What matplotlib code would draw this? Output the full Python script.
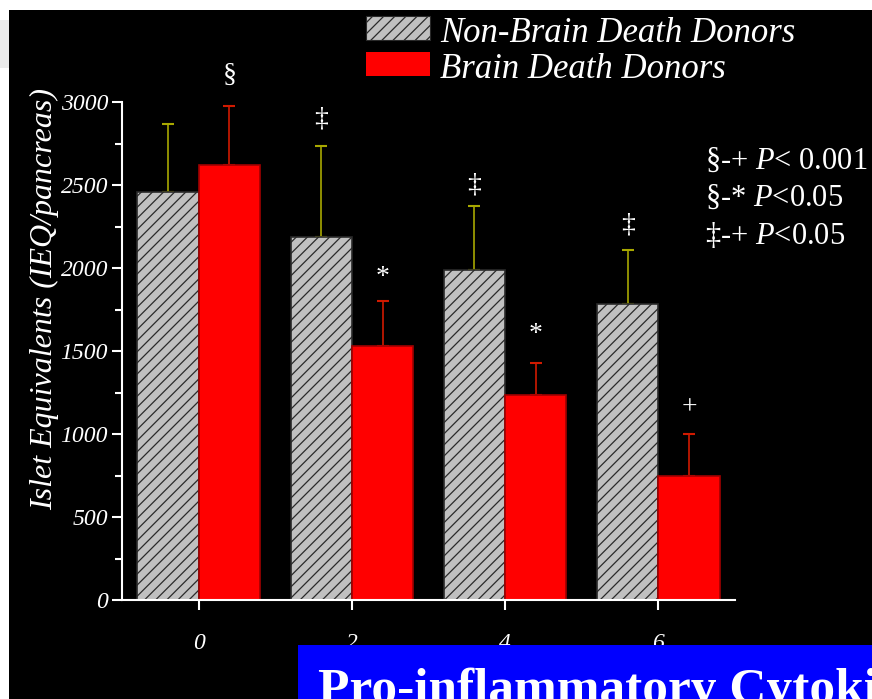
import numpy as np
import matplotlib
matplotlib.use("Agg")
import matplotlib.pyplot as plt
from matplotlib.patches import Rectangle

# data
hours = np.array([0, 2, 4, 6])
non_bd = [2460, 2185, 1985, 1785]
non_bd_err = [410, 550, 390, 325]
bd = [2620, 1530, 1235, 745]
bd_err = [355, 270, 195, 255]

# significance marks: (symbol, bar x offset, group index, y)
marks = [("§", 0.4, 0, 3160), ("‡", -0.4, 1, 2900), ("*", 0.4, 1, 1940),
         ("‡", -0.4, 2, 2500), ("*", 0.4, 2, 1600), ("‡", -0.4, 3, 2260),
         ("+", 0.4, 3, 1160)]

W, H = 872, 699
serif = "Liberation Serif"
plt.rcParams["hatch.linewidth"] = 0.9
plt.rcParams["mathtext.fontset"] = "custom"
plt.rcParams["mathtext.rm"] = serif
plt.rcParams["mathtext.it"] = serif + ":italic"


def fx(px):
    return px / W


def fy(py):
    return 1 - py / H


fig = plt.figure(figsize=(W / 100, H / 100), dpi=100, facecolor="white")

# black slide background + the little grey strip at the left edge
fig.patches.append(Rectangle((fx(9), 0), 1 - fx(9), fy(10), transform=fig.transFigure,
                             facecolor="black", edgecolor="none", zorder=-10))
fig.patches.append(Rectangle((0, fy(68)), fx(9), fy(20) - fy(68), transform=fig.transFigure,
                             facecolor="#ebebeb", edgecolor="none", zorder=-10))

ax = fig.add_axes([fx(122), fy(600), fx(735) - fx(122), fy(102) - fy(600)])
ax.set_facecolor("none")

ax.bar(hours - 0.4, non_bd, width=0.8, color="#c0c0c0", edgecolor="#2a2a2a",
       hatch="///", linewidth=1.2, zorder=2)
ax.bar(hours + 0.4, bd, width=0.8, color="#ff0000", edgecolor="#a00000",
       linewidth=1.2, zorder=2)
ax.errorbar(hours - 0.4, non_bd, yerr=[np.zeros(4), non_bd_err], fmt="none",
            ecolor="#a8a800", elinewidth=1.2, capsize=4, capthick=1.5, zorder=1)
ax.errorbar(hours + 0.4, bd, yerr=[np.zeros(4), bd_err], fmt="none",
            ecolor="#d01a00", elinewidth=1.2, capsize=4, capthick=1.5, zorder=1)

for sym, off, i, y in marks:
    ax.text(hours[i] + off, y, sym, color="white", ha="center", va="center",
            fontsize=20, family=serif, clip_on=False)

ax.set_xlim(-1, 7)
ax.set_ylim(0, 3000)
ax.set_xticks(hours)
ax.set_yticks(np.arange(0, 3001, 500))
ax.set_yticks(np.arange(250, 3000, 500), minor=True)

for s in ["top", "right"]:
    ax.spines[s].set_visible(False)
for s in ["left", "bottom"]:
    ax.spines[s].set_color("white")
    ax.spines[s].set_linewidth(1.5)

ax.tick_params(axis="both", which="major", colors="white", length=7, width=1.5,
               labelsize=17)
ax.tick_params(axis="y", which="minor", colors="white", length=5, width=1.5)
ax.tick_params(axis="y", which="major", pad=3)
ax.tick_params(axis="x", which="major", pad=17)
for lab in ax.get_xticklabels() + ax.get_yticklabels():
    lab.set_family(serif)
    lab.set_style("italic")

fig.text(fx(45), fy(299), "Islet Equivalents (IEQ/pancreas)", rotation=90,
         ha="center", va="center", color="white", fontsize=23, family=serif,
         style="italic")

# legend drawn by hand
fig.patches.append(Rectangle((fx(366), fy(40)), fx(64), fy(16) - fy(40),
                             transform=fig.transFigure, facecolor="#c0c0c0",
                             edgecolor="#2a2a2a", hatch="///", linewidth=0.8))
fig.patches.append(Rectangle((fx(366), fy(76)), fx(64), fy(52) - fy(76),
                             transform=fig.transFigure, facecolor="#ff0000",
                             edgecolor="none"))
fig.text(fx(440), fy(33), "Non-Brain Death Donors", color="white", fontsize=25,
         family=serif, style="italic", va="center")
fig.text(fx(440), fy(69), "Brain Death Donors", color="white", fontsize=25,
         family=serif, style="italic", va="center")

# p-value key
pvals = ["§-+ $P$< 0.001", "§-* $P$<0.05", "‡-+ $P$<0.05"]
for k, t in enumerate(pvals):
    fig.text(fx(705), fy(161 + 37.5 * k), t, color="white", fontsize=22,
             family=serif, va="center")

# blue title box cut off at the bottom of the slide
fig.patches.append(Rectangle((fx(298), 0), 1 - fx(298), fy(645),
                             transform=fig.transFigure, facecolor="#0000ff",
                             edgecolor="none"))
fig.text(fx(318), fy(703), "Pro-inflammatory Cytokines", color="white",
         fontsize=37, family=serif, weight="bold", va="baseline")

fig.savefig("out.png", dpi=100, facecolor=fig.get_facecolor())
